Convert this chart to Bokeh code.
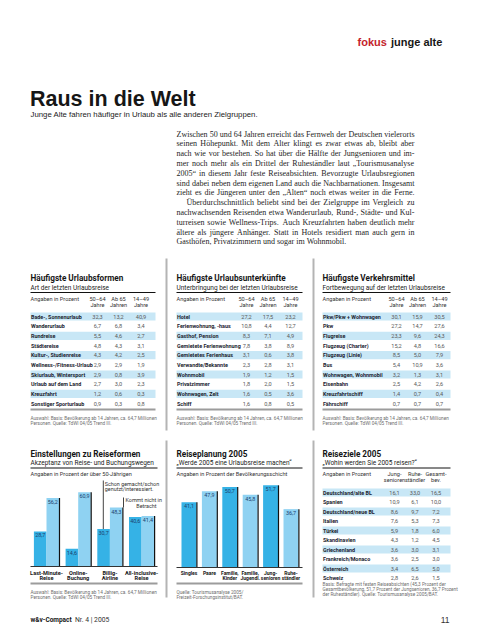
from bokeh.plotting import figure
from bokeh.models import Range1d
from bokeh.core.properties import value
from bokeh.embed import file_html
from bokeh.resources import INLINE

# ---------------- data ----------------
kicker_red = "fokus"
kicker_black = "junge alte"
headline = "Raus in die Welt"
deck = "Junge Alte fahren häufiger in Urlaub als alle anderen Zielgruppen."

body_lines = [
    "Zwischen 50 und 64 Jahren erreicht das Fernweh der Deutschen vielerorts",
    "seinen Höhepunkt. Mit dem Alter klingt es zwar etwas ab, bleibt aber",
    "nach wie vor bestehen. So hat über die Hälfte der Jungsenioren und im-",
    "mer noch mehr als ein Drittel der Ruheständler laut „Tourismusanalyse",
    "2005“ in diesem Jahr feste Reiseabsichten. Bevorzugte Urlaubsregionen",
    "sind dabei neben dem eigenen Land auch die Nachbarnationen. Insgesamt",
    "zieht es die Jüngeren unter den „Alten“ noch etwas weiter in die Ferne.",
    "Überdurchschnittlich beliebt sind bei der Zielgruppe im Vergleich zu",
    "nachwachsenden Reisenden etwa Wanderurlaub, Rund-, Städte- und Kul-",
    "turreisen sowie Wellness-Trips. Auch Kreuzfahrten haben deutlich mehr",
    "ältere als jüngere Anhänger. Statt in Hotels residiert man auch gern in",
    "Gasthöfen, Privatzimmern und sogar im Wohnmobil.",
]
body_indent = [0, 0, 0, 0, 0, 0, 0, 1, 0, 0, 0, 0]
body_justify = [1, 1, 1, 1, 1, 1, 1, 1, 1, 1, 1, 0]

age_head_1 = ["50–64", "Ab 65", "14–49"]
age_head_2 = ["Jahre", "Jahren", "Jahre"]
tdw_note = ["Auswahl: Basis: Bevölkerung ab 14 Jahren, ca. 64,7 Millionen",
            "Personen. Quelle: TdWI 04/05 Trend III."]

forms_title = "Häufigste Urlaubsformen"
forms_sub = "Art der letzten Urlaubsreise"
forms_labels = ["Bade-, Sonnenurlaub", "Wanderurlaub", "Rundreise", "Städtereise",
                "Kultur-, Studienreise", "Wellness-/Fitness-Urlaub", "Skiurlaub, Wintersport",
                "Urlaub auf dem Land", "Kreuzfahrt", "Sonstiger Sporturlaub"]
forms_50_64 = [32.3, 6.7, 5.5, 4.8, 4.3, 2.9, 2.9, 2.7, 1.2, 0.9]
forms_65 = [13.2, 6.8, 4.6, 4.3, 4.2, 2.9, 0.8, 3.0, 0.6, 0.3]
forms_14_49 = [40.9, 3.4, 2.7, 3.1, 2.5, 1.9, 3.9, 2.3, 0.3, 0.8]

stay_title = "Häufigste Urlaubsunterkünfte"
stay_sub = "Unterbringung bei der letzten Urlaubsreise"
stay_labels = ["Hotel", "Ferienwohnung, -haus", "Gasthof, Pension", "Gemietete Ferienwohnung",
               "Gemietetes Ferienhaus", "Verwandte/Bekannte", "Wohnmobil", "Privatzimmer",
               "Wohnwagen, Zelt", "Schiff"]
stay_50_64 = [27.2, 10.8, 8.3, 7.8, 3.1, 2.3, 1.9, 1.8, 1.6, 1.6]
stay_65 = [17.5, 4.4, 7.1, 3.8, 0.6, 2.8, 1.2, 2.0, 0.5, 0.8]
stay_14_49 = [23.2, 12.7, 4.9, 8.9, 3.8, 3.1, 1.5, 1.5, 3.6, 0.5]

mode_title = "Häufigste Verkehrsmittel"
mode_sub = "Fortbewegung auf der letzten Urlaubsreise"
mode_labels = ["Pkw/Pkw + Wohnwagen", "Pkw", "Flugreise", "Flugzeug (Charter)",
               "Flugzeug (Linie)", "Bus", "Wohnwagen, Wohnmobil", "Eisenbahn",
               "Kreuzfahrtschiff", "Fährschiff"]
mode_50_64 = [30.1, 27.2, 23.3, 15.2, 8.5, 5.4, 3.2, 2.5, 1.4, 0.7]
mode_65 = [15.9, 14.7, 9.6, 4.8, 5.0, 10.9, 1.3, 4.2, 0.7, 0.7]
mode_14_49 = [30.5, 27.6, 24.3, 16.6, 7.9, 3.6, 3.1, 2.6, 0.4, 0.7]

att_title = "Einstellungen zu Reiseformen"
att_sub = "Akzeptanz von Reise- und Buchungswegen"
att_note = "Angaben in Prozent der über 50-Jährigen"
att_cat_1 = ["Last-Minute-", "Online-", "Billig-", "All-inclusive-"]
att_cat_2 = ["Reise", "Buchung", "Airline", "Reise"]
att_done = [28.7, 14.6, 30.7, 40.6]
att_never = [56.2, 60.9, 48.3, 41.4]
att_key_done = ["Schon gemacht/schon", "genutzt/interessiert."]
att_key_never = ["Kommt nicht in", "Betracht"]

plan_title = "Reiseplanung 2005"
plan_sub = "„Werde 2005 eine Urlaubsreise machen“"
plan_note = "Angaben in Prozent der Bevölkerungsschicht"
plan_cat_1 = ["Singles", "Paare", "Familie,", "Familie,", "Jung-", "Ruhe-"]
plan_cat_2 = ["", "", "Kinder", "Jugendl.", "senioren", "ständler"]
plan_vals = [41.1, 47.9, 50.7, 45.8, 51.7, 36.7]
plan_source = ["Quelle: Tourismusanalyse 2005/", "Freizeit-Forschungsinstitut/BAT."]

dest_title = "Reiseziele 2005"
dest_sub = "„Wohin werden Sie 2005 reisen?“"
dest_head_1 = ["Jung-", "Ruhe-", "Gesamt-"]
dest_head_2 = ["senioren", "ständler", "bev."]
dest_labels = ["Deutschland/alte BL", "Spanien", "Deutschland/neue BL", "Italien", "Türkei",
               "Skandinavien", "Griechenland", "Frankreich/Monaco", "Österreich", "Schweiz"]
dest_jung = [16.1, 10.9, 8.6, 7.6, 5.9, 4.3, 3.6, 3.6, 3.4, 2.8]
dest_ruhe = [33.0, 6.1, 9.7, 5.3, 1.8, 1.2, 3.0, 2.5, 6.5, 2.6]
dest_gesamt = [16.5, 10.0, 7.2, 7.3, 6.0, 4.5, 3.1, 3.0, 5.0, 1.5]
dest_note = ["Basis: Befragte mit festen Reiseabsichten (45,3 Prozent der",
             "Gesamtbevölkerung, 51,7 Prozent der Jungsenioren, 36,7 Prozent",
             "der Ruheständler). Quelle: Tourismusanalyse 2005/BAT."]

footer_bold = "w&v-Compact"
footer_rest = "Nr. 4 | 2005"
page_no = "11"

# ---------------- style ----------------
SANS = "Liberation Sans"
COND = "Roboto"
SERIF = "Liberation Serif"
INK = "#161616"
GREY = "#5a5a5a"
NOTE = "#6e6e6e"
RED = "#c4242b"
BAND = "#c8e7f6"
DARK = "#35b2e6"
LIGHT = "#8fd2f2"
NUM = "#1d3f6e"
RULE = "#9c9c9c"

T_TITLE, T_SUB, T_HEAD, T_LABEL, T_VAL, T_NOTE = 8.2, 6.5, 5.6, 5.4, 5.6, 4.7

PW, PH = 472, 632
p = figure(width=PW, height=PH, x_range=Range1d(0, PW), y_range=Range1d(PH, 0),
           output_backend="svg", toolbar_location=None, min_border=0,
           x_axis_location=None, y_axis_location=None, title=None)
p.grid.visible = False
p.outline_line_color = None
p.background_fill_color = "white"
p.border_fill_color = "white"


def txt(xs, ys, texts, size, font=SANS, style="normal", color=INK, align="left",
        baseline="middle", **kw):
    p.text(x=list(xs), y=list(ys), text=list(texts), text_font=value(font),
           text_font_size=f"{size}px", text_font_style=style, text_color=color,
           text_align=align, text_baseline=baseline, **kw)


def hline(x0, x1, y, color, width):
    p.segment(x0=[x0], x1=[x1], y0=[y], y1=[y], line_color=color, line_width=width)


def fmt(v):
    return f"{v:.1f}".replace(".", ",")


# ---------------- header ----------------
txt([357], [41], [kicker_red], 11, SANS, "bold", RED, baseline="alphabetic")
txt([390.5], [41], [kicker_black], 11, SANS, "bold", INK, baseline="alphabetic")
txt([29.5], [98], [headline], 21.5, SANS, "bold", INK, baseline="alphabetic")
txt([30], [113.5], [deck], 7.8, SANS, "normal", "#222")

# ---------------- justified body text (Times metrics) ----------------
TW = {" ": 250, ",": 250, ".": 250, "-": 333, "/": 278, "„": 444, "“": 444, "?": 444,
      "A": 722, "B": 667, "C": 667, "D": 722, "E": 611, "F": 556, "G": 722, "H": 722,
      "I": 333, "J": 389, "K": 722, "L": 611, "M": 889, "N": 722, "O": 722, "P": 556,
      "R": 667, "S": 556, "T": 611, "U": 722, "V": 722, "W": 944, "Z": 611, "Ü": 722,
      "a": 444, "b": 500, "c": 444, "d": 500, "e": 444, "f": 333, "g": 500, "h": 500,
      "i": 278, "j": 278, "k": 500, "l": 278, "m": 778, "n": 500, "o": 500, "p": 500,
      "q": 500, "r": 333, "s": 389, "t": 278, "u": 500, "v": 500, "w": 722, "x": 500,
      "y": 500, "z": 444, "ä": 444, "ö": 500, "ü": 500, "ß": 500}
BODY_SIZE = 8.0
BX0, BX1 = 176.0, 414.0


def tw(s):
    return sum(TW.get(c, 500) for c in s) * BODY_SIZE / 1000.0


wx, wy, wt = [], [], []
for i, line in enumerate(body_lines):
    y = 133.5 + i * 9.8
    x0 = BX0 + 10 * body_indent[i]
    words = line.split(" ")
    widths = [tw(w) for w in words]
    if body_justify[i] and len(words) > 1:
        gap = (BX1 - x0 - sum(widths)) / (len(words) - 1)
    else:
        gap = tw(" ")
    x = x0
    for w, wd in zip(words, widths):
        wx.append(x); wy.append(y); wt.append(w)
        x += wd + gap
txt(wx, wy, wt, BODY_SIZE, SERIF, "normal", "#1e1e1e")

# ---------------- column separators ----------------
for sx in (166, 313):
    p.segment(x0=[sx, sx], x1=[sx, sx], y0=[258, 440], y1=[430, 597],
              line_color="#b4b4b4", line_width=2)


# ---------------- tables ----------------
def table(x0, x1, cols, y_t, title, sub, h1, h2, labels, a, b, c, note, y_rows, step,
          y_note, rule_bottom=None):
    txt([x0], [y_t], [title], T_TITLE, COND, "bold", INK)
    txt([x0], [y_t + 9.5], [sub], T_SUB, COND, "normal", "#222")
    hline(x0, x1, y_t + 14.5, "#111", 1)
    txt([x0], [y_t + 20.5], ["Angaben in Prozent"], T_HEAD, COND, "normal", "#333")
    txt(cols, [y_t + 20.5] * 3, h1, T_HEAD, COND, "normal", "#333", align="center")
    txt(cols, [y_t + 26.5] * 3, h2, T_HEAD, COND, "normal", "#333", align="center")
    ys = [y_rows + i * step for i in range(len(labels))]
    band_y = ys[0::2]
    p.rect(x=[(x0 + x1) / 2] * len(band_y), y=band_y, width=x1 - x0, height=8.2,
           fill_color=BAND, line_color=None)
    txt([x0 + 0.5] * len(labels), ys, labels, T_LABEL, COND, "bold", "#1b2430")
    for cx, vals in zip(cols, (a, b, c)):
        txt([cx] * len(vals), ys, [fmt(v) for v in vals], T_VAL, COND, "normal", GREY,
            align="center")
    if rule_bottom is not None:
        hline(x0, x1, rule_bottom, RULE, 2)
    txt([x0] * len(note), [y_note + 5 * k for k in range(len(note))], note, T_NOTE, COND,
        "normal", NOTE)


table(30, 155, [97, 118, 140.5], 277.5, forms_title, forms_sub, age_head_1, age_head_2,
      forms_labels, forms_50_64, forms_65, forms_14_49, tdw_note, 316, 9.67, 418, 409)
table(176, 302, [246, 267.5, 290], 277.5, stay_title, stay_sub, age_head_1, age_head_2,
      stay_labels, stay_50_64, stay_65, stay_14_49, tdw_note, 316, 9.67, 418, 409)
table(322, 450, [396, 417, 439], 277.5, mode_title, mode_sub, age_head_1, age_head_2,
      mode_labels, mode_50_64, mode_65, mode_14_49, tdw_note, 316, 9.67, 418, 409)
table(322, 450, [394, 414.5, 435.5], 453, dest_title, dest_sub, dest_head_1, dest_head_2,
      dest_labels, dest_jung, dest_ruhe, dest_gesamt, dest_note, 492, 9.5, 584)

# ---------------- bar chart scales (library ranges) ----------------
BASE1, K1 = 566.0, 1.22
BASE2, K2 = 567.0, 1.59
E1 = BASE1 / K1
E2 = BASE2 / K2
p.extra_y_ranges = {"att": Range1d(start=E1 - PH / K1, end=E1),
                    "plan": Range1d(start=E2 - PH / K2, end=E2)}

# ---------------- chart 1: Einstellungen ----------------
cx0, cx1 = 30, 157
txt([cx0], [453], [att_title], T_TITLE, COND, "bold", INK)
txt([cx0], [462.5], [att_sub], T_SUB, COND, "normal", "#222")
hline(cx0, cx1, 467.5, "#111", 1)
txt([cx0], [473], [att_note], T_HEAD, COND, "normal", "#333")

gc = [46 + i * 31.7 for i in range(len(att_done))]
BW1 = 12.6
xd = [g - BW1 / 2 for g in gc]
xl = [g + BW1 / 2 for g in gc]
p.vbar(x=xd, width=BW1, top=att_done, bottom=0, y_range_name="att",
       fill_color=DARK, line_color=None)
p.vbar(x=xl, width=BW1, top=att_never, bottom=0, y_range_name="att",
       fill_color=LIGHT, line_color=None)
p.segment(x0=[g + BW1 + 0.4 for g in gc], x1=[g + BW1 + 0.4 for g in gc],
          y0=[0] * 4, y1=att_never, y_range_name="att", line_color="#111", line_width=1.2)
txt(xd, att_done, [fmt(v) for v in att_done], 5.4, COND, "normal", NUM,
    align="center", baseline="top", y_range_name="att", y_offset=2)
txt(xl, att_never, [fmt(v) for v in att_never], 5.4, COND, "normal", NUM,
    align="center", baseline="top", y_range_name="att", y_offset=2)
hline(cx0, cx1, BASE1, "#333", 1)
txt(gc, [572] * 4, att_cat_1, 5.6, COND, "bold", INK, align="center")
txt(gc, [577.5] * 4, att_cat_2, 5.6, COND, "bold", INK, align="center")
hline(cx0, cx1, 583, RULE, 2)
txt([cx0, cx0], [592, 597], tdw_note, T_NOTE, COND, "normal", NOTE)

# key annotations (pointing at the Billig-Airline pair)
kd_x = xd[2] - BW1 / 2 + 6
kn_x = xl[2] + BW1 / 2 + 1
p.segment(x0=[kd_x], x1=[kd_x], y0=[att_done[2]], y1=[(BASE1 - 480) / K1],
          y_range_name="att", line_color="#444", line_width=1)
p.segment(x0=[kn_x], x1=[kn_x], y0=[att_never[2]], y1=[(BASE1 - 497) / K1],
          y_range_name="att", line_color="#444", line_width=1)
txt([kd_x + 1.5] * 2, [483, 488.5], att_key_done, 5.4, COND, "normal", "#333")
txt([kn_x + 2], [499.5], [att_key_never[0]], 5.4, COND, "normal", "#333")
txt([156], [505], [att_key_never[1]], 5.4, COND, "normal", "#333", align="right")

# ---------------- chart 2: Reiseplanung ----------------
px0, px1 = 176, 302
txt([px0], [453], [plan_title], T_TITLE, COND, "bold", INK)
txt([px0], [462.5], [plan_sub], T_SUB, COND, "normal", "#222")
hline(px0, px1, 467.5, "#111", 1)
txt([px0], [473], [plan_note], T_HEAD, COND, "normal", "#333")
pc = [188.5 + i * 20.4 for i in range(len(plan_vals))]
BW2 = 15
pcols = [DARK if i % 2 == 0 else LIGHT for i in range(len(plan_vals))]
p.vbar(x=pc, width=BW2, top=plan_vals, bottom=0, y_range_name="plan",
       fill_color=pcols, line_color=None)
p.segment(x0=[c + BW2 / 2 + 0.4 for c in pc], x1=[c + BW2 / 2 + 0.4 for c in pc],
          y0=[0] * len(pc), y1=plan_vals, y_range_name="plan", line_color="#111",
          line_width=1.2)
txt(pc, plan_vals, [fmt(v) for v in plan_vals], 5.4, COND, "normal", NUM,
    align="center", baseline="top", y_range_name="plan", y_offset=2)
hline(px0, px1, BASE2, "#333", 1)
txt(pc, [572] * len(pc), plan_cat_1, 5.0, COND, "bold", INK, align="center")
txt(pc, [577.5] * len(pc), plan_cat_2, 5.0, COND, "bold", INK, align="center")
hline(px0, px1, 583, RULE, 2)
txt([px0, px0], [592, 597], plan_source, T_NOTE, COND, "normal", NOTE)

# ---------------- footer ----------------
txt([30], [619], [footer_bold], 6.5, COND, "bold", INK)
txt([74.5], [619], [footer_rest], 6.8, COND, "normal", "#333")
txt([449], [619.5], [page_no], 8.5, SANS, "normal", "#333", align="right")

open("out.html", "w").write(file_html(p, INLINE))
